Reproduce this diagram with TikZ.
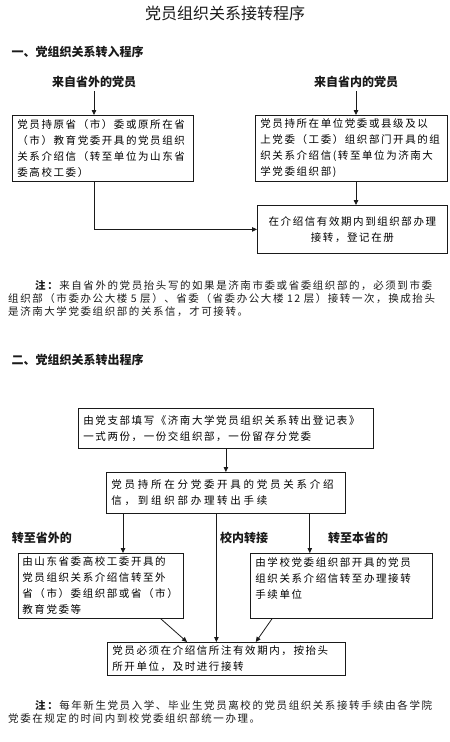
\documentclass[tikz,border=0pt]{standalone}
\usepackage{fontspec}
\setmainfont{Noto Sans CJK SC}[LetterSpace=15]
\newfontfamily\headfont{Noto Sans CJK SC}
\usetikzlibrary{arrows.meta}
\definecolor{ink}{HTML}{1A1A1A}
\tikzset{
  box/.style={rectangle, draw=ink, line width=0.8pt, anchor=north west, inner xsep=5pt,
    inner ysep=1pt, align=left, font=\fontsize{10.5}{16}\selectfont},
  boxc/.style={box, align=center},
  head/.style={font=\headfont\bfseries\fontsize{12}{14}\selectfont, text=ink},
  note/.style={anchor=north west, inner sep=0pt, align=left, text width=434pt,
    font=\fontsize{10.5}{13}\selectfont, text=ink},
  arrow/.style={-{Triangle[length=5pt, width=4.5pt]}, line width=0.8pt, ink},
}

\begin{document}
\begin{tikzpicture}[x=1pt, y=-1pt]
\useasboundingbox (0,0) rectangle (450,742);
\node[font=\headfont\fontsize{16}{18}\selectfont, text=ink] (title) at (225,13) {党员组织关系接转程序};

\node[head, anchor=west] (head1) at (8,52) {一、党组织关系转入程序};
\node[head] (srcL) at (94,82) {来自省外的党员};
\node[head] (srcR) at (356,82) {来自省内的党员};
\node[box, text width=171pt, minimum height=66pt] (inL) at (12,115)
  {党员持原省（市）委或原所在省\\（市）教育党委开具的党员组织\\关系介绍信（转至单位为山东省\\委高校工委）};
\node[box, text width=182pt, minimum height=66pt] (inR) at (255,115)
  {党员持所在单位党委或县级及以\\上党委（工委）组织部门开具的组\\织关系介绍信(转至单位为济南大\\学党委组织部)};
\node[boxc, text width=180pt, minimum height=48pt] (inReg) at (257,205)
  {在介绍信有效期内到组织部办理\\接转，登记在册};
\draw[arrow] (srcL.south) -- (srcL.south |- inL.north);
\draw[arrow] (srcR.south) -- (srcR.south |- inR.north);
\draw[arrow] (srcL.south |- inL.south) |- (inReg.west);
\draw[arrow] (srcR.south |- inR.south) -- (srcR.south |- inReg.north);
\node[note] (note1) at (8,280)
  {\hspace*{27pt}\textbf{注：}来自省外的党员抬头写的如果是济南市委或省委组织部的，必须到市委\\组织部（市委办公大楼 5 层）、省委（省委办公大楼 12 层）接转一次，换成抬头\\是济南大学党委组织部的关系信，才可接转。};

\node[head, anchor=west] (head2) at (8,360) {二、党组织关系转出程序};
\node[box, text width=285pt, minimum height=40pt] (out1) at (78,408)
  {由党支部填写《济南大学党员组织关系转出登记表》\\一式两份，一份交组织部，一份留存分党委};
\node[box, text width=229pt, minimum height=41pt] (out2) at (106,472)
  {\addfontfeature{LetterSpace=26}党员持所在分党委开具的党员关系介绍\\信，到组织部办理转出手续};
\node[box, inner xsep=4pt, text width=157pt, minimum height=65pt] (outL) at (18,553)
  {由山东省委高校工委开具的\\党员组织关系介绍信转至外\\省（市）委组织部或省（市）\\教育党委等};
\node[box, text width=172pt, minimum height=65pt] (outR) at (250,553)
  {由学校党委组织部开具的党员\\组织关系介绍信转至办理接转\\手续单位\\\mbox{}};
\node[box, text width=228pt, minimum height=33pt, inner ysep=0.5pt] (final) at (107,642)
  {党员必须在介绍信所注有效期内，按抬头\\所开单位，及时进行接转};
\node[head] (lblL) at (42,538) {转至省外的};
\node[head] (lblM) at (244,538) {校内转接};
\node[head] (lblR) at (358,538) {转至本省的};
\draw[arrow] (out1.south) -- (out1.south |- out2.north);
\draw[arrow] ([xshift=17pt]out2.south west) -- ([xshift=17pt]out2.south west |- outL.north);
\draw[arrow] ([xshift=-36pt]out2.south east) -- ([xshift=-36pt]out2.south east |- outR.north);
\draw[arrow] ([xshift=-9.5pt]out2.south) -- ([xshift=-9.5pt]out2.south |- final.north);
\draw[arrow] ([xshift=-23pt]outL.south east) -- ([xshift=80pt]final.north west);
\draw[arrow] ([xshift=22pt]outR.south west) -- ([xshift=-90pt]final.north east);
\node[note] (note2) at (8,700)
  {\hspace*{27pt}\textbf{注：}每年新生党员入学、毕业生党员离校的党员组织关系接转手续由各学院\\党委在规定的时间内到校党委组织部统一办理。};
\end{tikzpicture}
\end{document}
